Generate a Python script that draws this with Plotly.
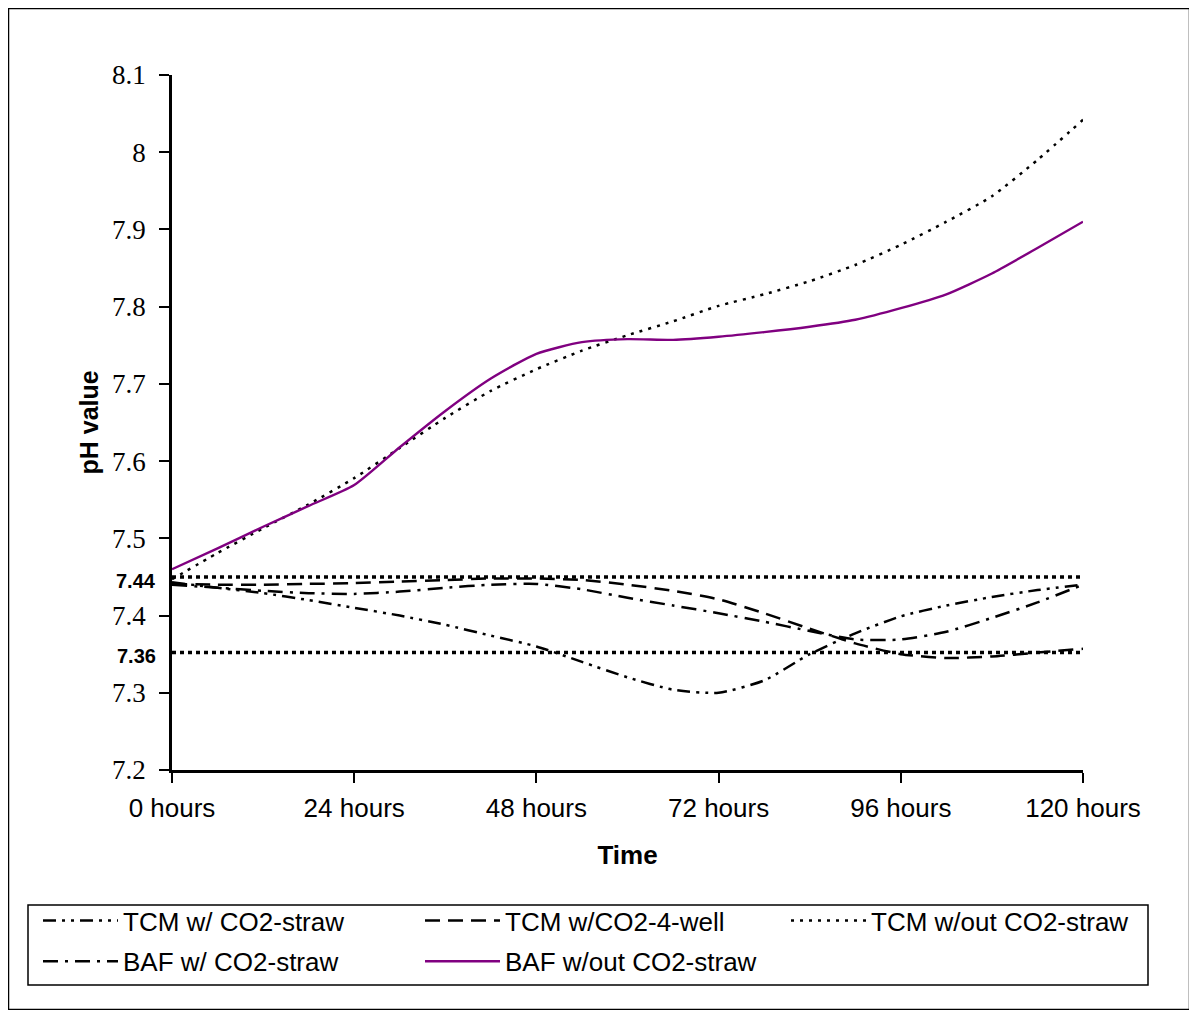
import plotly.graph_objects as go

# ---- data ----
HOURS = [0, 6, 12, 18, 24, 30, 36, 42, 48, 54, 60, 66, 72, 78, 84, 90, 96, 102, 108, 114, 120]

TCM_W_CO2_STRAW = [7.443, 7.436, 7.429, 7.420, 7.410, 7.400, 7.388, 7.374, 7.360, 7.340, 7.320,
                   7.304, 7.300, 7.316, 7.350, 7.377, 7.399, 7.413, 7.424, 7.433, 7.440]
TCM_W_CO2_4WELL = [7.441, 7.440, 7.440, 7.441, 7.442, 7.444, 7.446, 7.448, 7.448, 7.446, 7.440,
                   7.432, 7.421, 7.403, 7.383, 7.364, 7.350, 7.345, 7.347, 7.352, 7.357]
TCM_WOUT_CO2_STRAW = [7.447, 7.481, 7.513, 7.544, 7.578, 7.617, 7.656, 7.691, 7.719, 7.743, 7.763,
                      7.781, 7.801, 7.816, 7.833, 7.854, 7.880, 7.910, 7.943, 7.990, 8.042]
BAF_W_CO2_STRAW = [7.440, 7.436, 7.432, 7.429, 7.428, 7.431, 7.436, 7.440, 7.441, 7.434, 7.423,
                   7.413, 7.403, 7.392, 7.380, 7.369, 7.369, 7.379, 7.397, 7.417, 7.440]
BAF_WOUT_CO2_STRAW = [7.460, 7.487, 7.515, 7.542, 7.569, 7.618, 7.665, 7.707, 7.739, 7.754, 7.758,
                      7.757, 7.761, 7.767, 7.774, 7.783, 7.798, 7.816, 7.843, 7.876, 7.910]

SERIES_NAMES = ["TCM w/ CO2-straw", "TCM w/CO2-4-well", "TCM w/out CO2-straw",
                "BAF w/ CO2-straw", "BAF w/out CO2-straw"]

X_TICKS = [0, 24, 48, 72, 96, 120]
X_LABELS = ["0 hours", "24 hours", "48 hours", "72 hours", "96 hours", "120 hours"]
Y_TICKS = [7.2, 7.3, 7.4, 7.5, 7.6, 7.7, 7.8, 7.9, 8.0, 8.1]
Y_LABELS = ["7.2", "7.3", "7.4", "7.5", "7.6", "7.7", "7.8", "7.9", "8", "8.1"]
GRID_VALUES = [7.3, 7.4, 7.5, 7.6, 7.7, 7.8, 7.9, 8.0]

X_TITLE = "Time"
Y_TITLE = "pH value"

REF_LINE_VALUES = [7.450, 7.352]      # where the dotted reference lines sit in the picture
REF_LABELS = ["7.44", "7.36"]
REF_LABEL_POS = [7.445, 7.348]

SANS = "Liberation Sans, Arial, sans-serif"
SERIF = "Liberation Serif, Times New Roman, serif"

series = [TCM_W_CO2_STRAW, TCM_W_CO2_4WELL, TCM_WOUT_CO2_STRAW, BAF_W_CO2_STRAW, BAF_WOUT_CO2_STRAW]
styles = [
    dict(color="black", width=2.5, dash="13px,6px,3px,6px,3px,6px"),
    dict(color="black", width=2.5, dash="15px,8px"),
    dict(color="black", width=2.5, dash="3px,6px"),
    dict(color="black", width=2.5, dash="15px,7px,3px,7px"),
    dict(color="#800080", width=2.4),
]
legend_ids = ["legend", "legend2", "legend3", "legend", "legend2"]

fig = go.Figure()
for i, (name, ys, st, lg) in enumerate(zip(SERIES_NAMES, series, styles, legend_ids)):
    fig.add_trace(go.Scatter(x=HOURS, y=ys, name=name, mode="lines",
                             line=dict(shape="spline", smoothing=0.6, **st),
                             legend=lg, legendgroup=f"g{i}",
                             cliponaxis=False, hoverinfo="skip"))

# page has an 8px body margin: figure spans screen px 8..1190 x 8..1010
OFF = 8
W, H = 1190 - OFF, 1010 - OFF
PLOT_L, PLOT_R, PLOT_T, PLOT_B = 172, 1083, 75, 770   # screen px of plot area
L, R, T, B = PLOT_L - OFF, (W + OFF) - PLOT_R, PLOT_T - OFF, (H + OFF) - PLOT_B
PW, PH = PLOT_R - PLOT_L, PLOT_B - PLOT_T

def px_x(p):
    return (p - PLOT_L) / PW

def px_y(p):
    return (PLOT_B - p) / PH

shapes = []
for v in REF_LINE_VALUES:
    shapes.append(dict(type="line", xref="x", yref="y", x0=0, x1=121.6, y0=v, y1=v,
                       line=dict(color="black", width=3.5, dash="4px,4px"), layer="above"))
# legend frame
shapes.append(dict(type="rect", xref="paper", yref="paper",
                   x0=px_x(28), x1=px_x(1148), y0=px_y(985), y1=px_y(905),
                   line=dict(color="black", width=1.5)))
# outer chart frame
shapes.append(dict(type="rect", xref="paper", yref="paper",
                   x0=px_x(OFF + 0.5), x1=px_x(1189.5), y0=px_y(1009.5), y1=px_y(OFF + 0.5),
                   line=dict(color="black", width=1.5)))

annotations = []
for lab, pos in zip(REF_LABELS, REF_LABEL_POS):
    annotations.append(dict(text=f"<b>{lab}</b>", xref="paper", yref="y", x=px_x(158), y=pos,
                            xanchor="right", yanchor="middle", showarrow=False,
                            font=dict(family=SANS, size=20, color="black")))
# y-axis title
annotations.append(dict(text=f"<b>{Y_TITLE}</b>", xref="paper", yref="paper",
                        x=px_x(88), y=0.5, xanchor="center", yanchor="middle",
                        textangle=-90, showarrow=False,
                        font=dict(family=SANS, size=25, color="black")))

def legend_at(screen_x):
    return dict(orientation="v", xref="container", yref="container",
                x=(screen_x - OFF) / W, y=1 - (897 - OFF) / H, xanchor="left", yanchor="top",
                itemwidth=75, tracegroupgap=4,
                font=dict(family=SANS, size=26, color="black"),
                bgcolor="rgba(0,0,0,0)", borderwidth=0, traceorder="grouped")

fig.update_layout(
    width=W, height=H,
    margin=dict(l=L, r=R, t=T, b=B, pad=0, autoexpand=False),
    paper_bgcolor="white", plot_bgcolor="white",
    shapes=shapes, annotations=annotations,
    showlegend=True,
    legend=legend_at(123 - 85),
    legend2=legend_at(505 - 85),
    legend3=legend_at(871 - 85),
    xaxis=dict(range=[0, 120], tickmode="array", tickvals=X_TICKS, ticktext=X_LABELS,
               ticks="outside", ticklen=10, tickwidth=2, tickcolor="black", ticklabelstandoff=3,
               showline=True, linewidth=2.5, linecolor="black", showgrid=False, zeroline=False,
               automargin=True,
               tickfont=dict(family=SANS, size=26, color="black"),
               title=dict(text=f"<b>{X_TITLE}</b>", font=dict(family=SANS, size=26, color="black"), standoff=24)),
    xaxis2=dict(range=[0, 120], overlaying="x", anchor="y", tickmode="array", tickvals=X_TICKS,
                ticks="inside", ticklen=8, tickwidth=2, tickcolor="black", automargin=False,
                showticklabels=False, showline=False, showgrid=False, zeroline=False),
    yaxis=dict(range=[7.2, 8.1], tickmode="array", tickvals=Y_TICKS, ticktext=Y_LABELS,
               ticks="outside", ticklen=10, tickwidth=2, tickcolor="black", ticklabelstandoff=8,
               showline=True, linewidth=2.5, linecolor="black", showgrid=False, zeroline=False,
               automargin=False,
               tickfont=dict(family=SERIF, size=27, color="black")),
    yaxis2=dict(range=[7.2, 8.1], overlaying="y", anchor="x", side="left", tickmode="array",
                tickvals=GRID_VALUES, ticks="", showticklabels=False, showline=False, automargin=False,
                showgrid=True, gridcolor="black", gridwidth=2.5, zeroline=False),
    yaxis3=dict(range=[7.2, 8.1], overlaying="y", anchor="x", side="left", tickmode="array",
                tickvals=[8.1], ticks="inside", ticklen=8, tickwidth=2, tickcolor="black",
                showticklabels=False, showline=False, automargin=False,
                showgrid=True, gridcolor="#c8c8c8", gridwidth=1, zeroline=False),
)

fig.write_html("out.html")
